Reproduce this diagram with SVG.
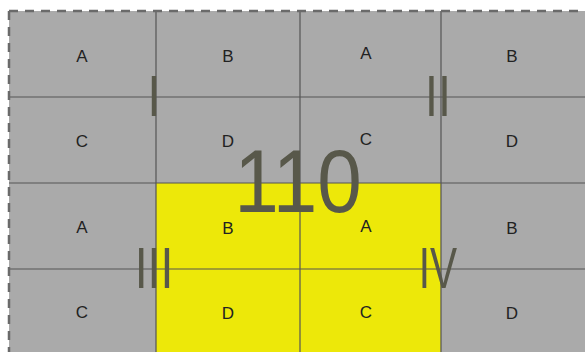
<svg xmlns="http://www.w3.org/2000/svg" width="585" height="352" viewBox="0 0 585 352">
<style>
.cell{fill:#aaaaaa;}
.y{fill:#ede809;}
.grid{stroke:#555;stroke-width:1.2;fill:none;}
.lbl{font-family:"Liberation Sans",Arial,sans-serif;font-size:17px;fill:#222;text-anchor:middle;}
.num{font-family:"Liberation Sans",Arial,sans-serif;font-size:58px;fill:#58584a;text-anchor:middle;}
.big{font-family:"Liberation Sans",Arial,sans-serif;font-size:89px;fill:#58584a;text-anchor:middle;}
</style>
<rect x="0" y="0" width="585" height="352" fill="#ffffff"/>
<g id="background">
<rect class="cell" x="9" y="11" width="576" height="341"/>
<rect class="y" x="156" y="183" width="285" height="169"/>
</g>
<g id="grid">
<path class="grid" d="M156 11V352M300 11V352M441 11V352M9 97H585M9 183H585M9 269H585"/>
<path d="M9 11H585M9 11V352" stroke="#6a6a6a" stroke-width="2.5" stroke-dasharray="9 7" fill="none"/>
</g>
<g id="labels">
<text class="lbl" x="82" y="62">A</text>
<text class="lbl" x="228" y="62">B</text>
<text class="lbl" x="366" y="59">A</text>
<text class="lbl" x="512" y="62">B</text>
<text class="lbl" x="82" y="147">C</text>
<text class="lbl" x="228" y="147">D</text>
<text class="lbl" x="366" y="145">C</text>
<text class="lbl" x="512" y="147">D</text>
<text class="lbl" x="82" y="233">A</text>
<text class="lbl" x="228" y="234">B</text>
<text class="lbl" x="366" y="232">A</text>
<text class="lbl" x="512" y="234">B</text>
<text class="lbl" x="82" y="318">C</text>
<text class="lbl" x="228" y="319">D</text>
<text class="lbl" x="366" y="318">C</text>
<text class="lbl" x="512" y="319">D</text>
</g>
<g id="quadrants">
<text class="num" transform="translate(154 116) scale(0.8 1)">I</text>
<text class="num" transform="translate(438 116) scale(0.8 1)">II</text>
<text class="num" transform="translate(154 288) scale(0.8 1)">III</text>
<text class="num" transform="translate(438 288) scale(0.7 1)">IV</text>
<text class="big" transform="translate(298 212) scale(0.9 1)">110</text>
</g>
</svg>
